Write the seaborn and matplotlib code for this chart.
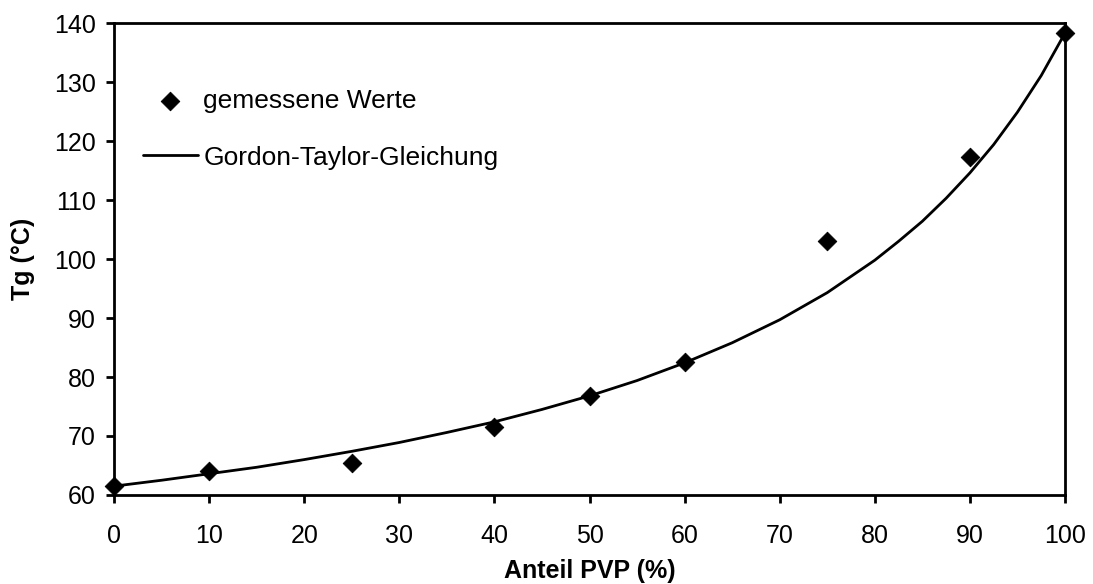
import pandas as pd
import matplotlib.pyplot as plt
import seaborn as sns

# Messwerte (Anteil PVP in %, Tg in °C)
anteil_pvp = [0, 10, 25, 40, 50, 60, 75, 90, 100]
tg_gemessen = [61.5, 64.1, 65.4, 71.5, 76.8, 82.5, 103.0, 117.3, 138.3]

# Gordon-Taylor-Kurve
gt_x = [0, 5, 10, 15, 20, 25, 30, 35, 40, 45, 50, 55, 60, 65, 70, 75,
        80, 82.5, 85, 87.5, 90, 92.5, 95, 97.5, 100]
gt_y = [61.5, 62.5, 63.6, 64.7, 66.0, 67.4, 68.9, 70.6, 72.4, 74.5, 76.8,
        79.4, 82.4, 85.8, 89.7, 94.3, 99.8, 103.0, 106.4, 110.3, 114.6,
        119.4, 124.9, 131.1, 138.3]

x_ticks = list(range(0, 101, 10))
y_ticks = list(range(60, 141, 10))

sns.set_theme(style="white")
plt.rcParams['font.family'] = ['Liberation Sans', 'DejaVu Sans']
plt.rcParams['text.color'] = 'black'
plt.rcParams['axes.labelcolor'] = 'black'

fig = plt.figure(figsize=(10.93, 5.84), dpi=100)
ax = fig.add_axes([0.1043, 0.1524, 0.8701, 0.8082])

df_mess = pd.DataFrame({'x': anteil_pvp, 'y': tg_gemessen})
df_gt = pd.DataFrame({'x': gt_x, 'y': gt_y})

sns.lineplot(data=df_gt, x='x', y='y', ax=ax, color='black', linewidth=2.0,
             label='Gordon-Taylor-Gleichung', zorder=2)
sns.scatterplot(data=df_mess, x='x', y='y', ax=ax, marker='D', s=90,
                color='black', edgecolor='black', linewidth=0.6,
                label='gemessene Werte', zorder=3, clip_on=False)

ax.set_xlim(0, 100)
ax.set_ylim(60, 140)
ax.set_xticks(x_ticks)
ax.set_yticks(y_ticks)

for side in ['left', 'right', 'top', 'bottom']:
    ax.spines[side].set_color('black')
    ax.spines[side].set_linewidth(2.0)

ax.tick_params(axis='both', which='major', direction='out', length=6,
               width=2.0, color='black', labelsize=18, labelcolor='black',
               left=True, bottom=True)
ax.tick_params(axis='x', pad=15)
ax.tick_params(axis='y', pad=7)

ax.set_xlabel('Anteil PVP (%)', fontsize=18, fontweight='bold', labelpad=8)
ax.set_ylabel('Tg (°C)', fontsize=18, fontweight='bold', labelpad=14)

# Legende: Marker zuerst, dann die Linie
handles, labels = ax.get_legend_handles_labels()
order = [labels.index('gemessene Werte'), labels.index('Gordon-Taylor-Gleichung')]
ax.legend([handles[i] for i in order], [labels[i] for i in order],
          loc='upper left', bbox_to_anchor=(0.03, 0.86), frameon=False,
          fontsize=19, handlelength=2.1, handletextpad=0.2,
          labelspacing=1.23, borderpad=0, borderaxespad=0)

plt.savefig('out.png', dpi=100)
